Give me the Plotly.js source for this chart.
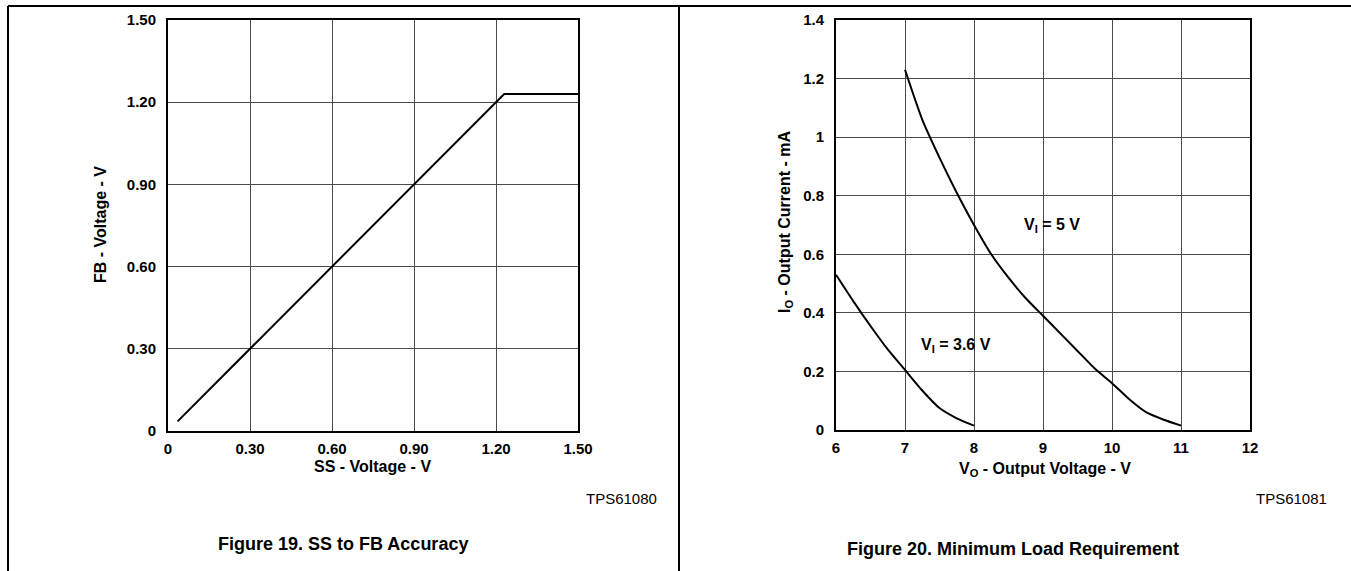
<!DOCTYPE html>
<html>
<head>
<meta charset="utf-8">
<script src="https://cdn.plot.ly/plotly-3.0.1.min.js"></script>
<style>html,body{margin:0;padding:0;background:#fff;}#chart{width:1351px;height:571px;}</style>
</head>
<body>
<div id="chart"></div>
<script>
// Figure 19: SS to FB Accuracy
const ssVoltage = [0.035, 1.23, 1.50];
const fbVoltage = [0.035, 1.23, 1.23];
const leftTickVals = [0, 0.30, 0.60, 0.90, 1.20, 1.50];
const leftTickText = ["0", "0.30", "0.60", "0.90", "1.20", "1.50"];

// Figure 20: Minimum Load Requirement
const vo5 = [7, 7.25, 7.5, 7.75, 8, 8.25, 8.5, 8.75, 9, 9.25, 9.5, 9.75, 10, 10.25, 10.5, 10.75, 11];
const io5 = [1.23, 1.06, 0.93, 0.81, 0.70, 0.60, 0.52, 0.45, 0.39, 0.33, 0.27, 0.21, 0.16, 0.105, 0.06, 0.035, 0.015];
const vo36 = [6, 6.25, 6.5, 6.75, 7, 7.25, 7.5, 7.75, 8];
const io36 = [0.53, 0.44, 0.355, 0.275, 0.205, 0.135, 0.075, 0.04, 0.015];
const rightXTickVals = [6, 7, 8, 9, 10, 11, 12];
const rightXTickText = ["6", "7", "8", "9", "10", "11", "12"];
const rightYTickVals = [0, 0.2, 0.4, 0.6, 0.8, 1, 1.2, 1.4];
const rightYTickText = ["0", "0.2", "0.4", "0.6", "0.8", "1", "1.2", "1.4"];

const W = 1351, H = 571;
const px = v => v / W;
const py = v => 1 - v / H;

const FONT = "Liberation Sans, Arial, Helvetica, sans-serif";
const tickFont = {family: FONT, size: 15, color: "#000", weight: "bold"};
const boldFont = size => ({family: FONT, size: size, color: "#000", weight: "bold"});

const lineStyle = {color: "#000", width: 2};

const traces = [
  {x: ssVoltage, y: fbVoltage, xaxis: "x", yaxis: "y", mode: "lines", line: lineStyle, hoverinfo: "skip"},
  {x: vo5, y: io5, xaxis: "x2", yaxis: "y2", mode: "lines", line: Object.assign({shape: "spline", smoothing: 0.6}, lineStyle), hoverinfo: "skip"},
  {x: vo36, y: io36, xaxis: "x2", yaxis: "y2", mode: "lines", line: Object.assign({shape: "spline", smoothing: 0.6}, lineStyle), hoverinfo: "skip"}
];

function axis(domain, range, vals, text, anchor) {
  return {
    domain: domain, range: range, anchor: anchor,
    tickmode: "array", tickvals: vals, ticktext: text,
    showgrid: true, gridcolor: "#4a4a4a", gridwidth: 1,
    zeroline: false, showline: true, linecolor: "#000", linewidth: 2, mirror: true,
    ticks: "", tickfont: tickFont, automargin: false, fixedrange: true
  };
}

const xa = axis([px(168), px(578)], [0, 1.5], leftTickVals, leftTickText, "y");
xa.ticklabelstandoff = 3;
const ya = axis([py(431), py(20)], [0, 1.5], leftTickVals, leftTickText, "x");
ya.ticklabelstandoff = 7;
const xa2 = axis([px(836), px(1250)], [6, 12], rightXTickVals, rightXTickText, "y2");
xa2.ticklabelstandoff = 3;
const ya2 = axis([py(430), py(20)], [0, 1.4], rightYTickVals, rightYTickText, "x2");
ya2.ticklabelstandoff = 7;

const ann = (x, y, text, opts) => Object.assign({
  xref: "paper", yref: "paper", x: px(x), y: py(y), text: text, showarrow: false,
  xanchor: "center", yanchor: "middle",
  font: boldFont(16)
}, opts || {});

const annotations = [
  ann(373, 466, "SS - Voltage - V"),
  ann(100, 225, "FB - Voltage - V", {textangle: -90}),
  ann(1045, 469, "V<sub>O</sub> - Output Voltage - V"),
  ann(785, 222, "I<sub>O</sub> - Output Current - mA", {textangle: -90}),
  {xref: "x2", yref: "y2", x: 9.13, y: 0.70, text: "V<sub>I</sub> = 5 V", showarrow: false,
   xanchor: "center", yanchor: "middle", font: boldFont(16)},
  {xref: "x2", yref: "y2", x: 7.74, y: 0.29, text: "V<sub>I</sub> = 3.6 V", showarrow: false,
   xanchor: "center", yanchor: "middle", font: boldFont(16)},
  ann(621, 498, "TPS61080", {font: {family: FONT, size: 15, color: "#000"}}),
  ann(1291, 498, "TPS61081", {font: {family: FONT, size: 15, color: "#000"}}),
  ann(343, 544, "Figure 19. SS to FB Accuracy", {font: boldFont(18)}),
  ann(1013, 549, "Figure 20. Minimum Load Requirement", {font: boldFont(18)})
];

const frame = {color: "#000", width: 2};
const shapes = [
  {type: "line", xref: "paper", yref: "paper", x0: px(8), x1: 1, y0: py(6), y1: py(6), line: frame},
  {type: "line", xref: "paper", yref: "paper", x0: px(8), x1: px(8), y0: py(6), y1: 0, line: frame},
  {type: "line", xref: "paper", yref: "paper", x0: px(679), x1: px(679), y0: py(6), y1: 0, line: frame}
];

const layout = {
  width: W, height: H,
  margin: {l: 0, r: 0, t: 0, b: 0, pad: 0},
  paper_bgcolor: "#fff", plot_bgcolor: "#fff",
  showlegend: false,
  xaxis: xa, yaxis: ya, xaxis2: xa2, yaxis2: ya2,
  annotations: annotations, shapes: shapes,
  font: {family: FONT, color: "#000"}
};

Plotly.newPlot("chart", traces, layout, {displayModeBar: false, staticPlot: true});
</script>
</body>
</html>
